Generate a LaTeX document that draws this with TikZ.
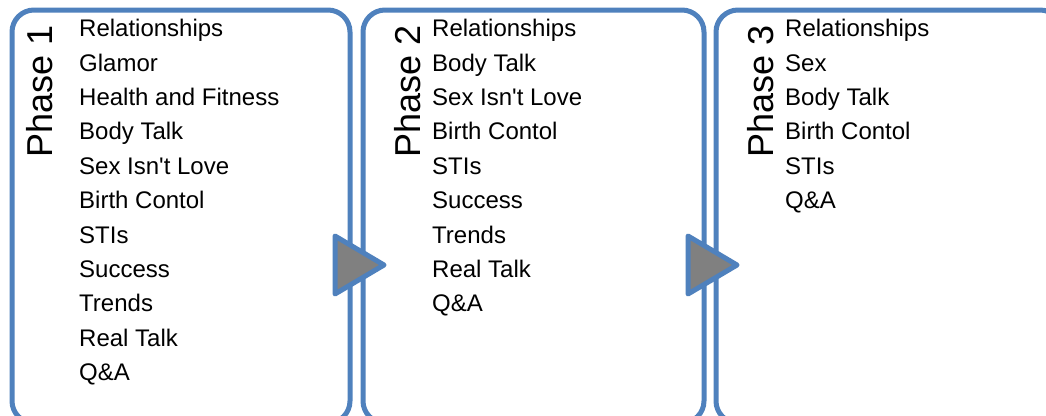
\documentclass[tikz,border=0pt]{standalone}
\usepackage{fontspec}
\setmainfont{Liberation Sans}
\definecolor{boxblue}{HTML}{4F81BD}
\definecolor{trigray}{HTML}{808080}
\begin{document}
\begin{tikzpicture}[x=1pt,y=-1pt,
  phasebox/.style={draw=boxblue,line width=5pt,rounded corners=22pt,fill=white},
  arrowtri/.style={draw=boxblue,line width=5pt,line join=round,fill=trigray},
  item/.style={anchor=base west,inner sep=0pt,font=\fontsize{24}{28}\selectfont},
  phase/.style={anchor=base west,inner sep=0pt,rotate=90,font=\fontsize{36}{40}\selectfont}]
\useasboundingbox (0,0) rectangle (1046,415);
\clip (0,0) rectangle (1046,415);
% boxes
\draw[phasebox] (12,10) rectangle (350,423);
\draw[phasebox] (363,10) rectangle (704,423);
\draw[phasebox] (716,10) rectangle (1062,423);
% arrows
\coordinate (a1) at (335,236);
\coordinate (a2) at (384,265);
\coordinate (a3) at (335,294);
\draw[arrowtri] (a1) -- (a2) -- (a3) -- cycle;
\coordinate (b1) at (688,236);
\coordinate (b2) at (737,265);
\coordinate (b3) at (688,294);
\draw[arrowtri] (b1) -- (b2) -- (b3) -- cycle;
% phase labels
\node[phase] (ph1) at (52,158) {Phase 1};
\node[phase] (ph2) at (420,158) {Phase 2};
\node[phase] (ph3) at (773,158) {Phase 3};
% items
\foreach \t [count=\i from 0] in {Relationships,Glamor,Health and Fitness,Body Talk,Sex Isn\textquotesingle t Love,Birth Contol,STIs,Success,Trends,Real Talk,Q\&A}
  \node[item] (p1i\i) at (79,36.7+34.4*\i) {\t};
\foreach \t [count=\i from 0] in {Relationships,Body Talk,Sex Isn\textquotesingle t Love,Birth Contol,STIs,Success,Trends,Real Talk,Q\&A}
  \node[item] (p2i\i) at (432,36.7+34.4*\i) {\t};
\foreach \t [count=\i from 0] in {Relationships,Sex,Body Talk,Birth Contol,STIs,Q\&A}
  \node[item] (p3i\i) at (785,36.7+34.4*\i) {\t};
\end{tikzpicture}
\end{document}
